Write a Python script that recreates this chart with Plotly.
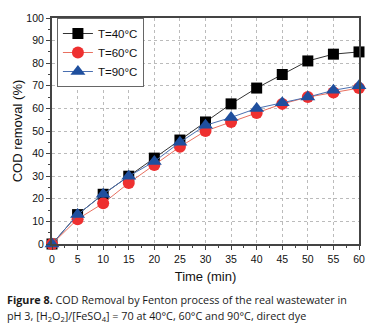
import plotly.graph_objects as go

time_min = [0, 5, 10, 15, 20, 25, 30, 35, 40, 45, 50, 55, 60]
cod_40 = [0, 13, 22, 30, 38, 46, 54, 62, 69, 75, 81, 84, 85]
cod_60 = [0, 11, 18, 27, 35, 43, 50, 54, 58, 62, 65, 67, 69]
cod_90 = [0, 13, 22, 30, 36.5, 45, 52.5, 56, 60, 62.5, 65, 68, 70]

series = [
    ("T=40°C", cod_40, "square", "#000000", "#333333", 11),
    ("T=60°C", cod_60, "circle", "#ee3030", "#e87060", 12),
    ("T=90°C", cod_90, "triangle-up", "#1f4f9e", "#4a6fb0", 13),
]

fig = go.Figure()
for name, ys, sym, mc, lc, ms in series:
    fig.add_trace(go.Scatter(
        x=time_min, y=ys, name=name, mode="lines+markers",
        line=dict(color=lc, width=1),
        marker=dict(symbol=sym, color=mc, size=ms, line=dict(width=0)),
        cliponaxis=False,
    ))

axis_font = dict(family="Liberation Sans, Arial", size=10.5, color="#111")
title_font = dict(family="Liberation Sans, Arial", size=13, color="#111")
fig.update_layout(
    width=377, height=333,
    margin=dict(l=52, r=15, t=14, b=89),
    paper_bgcolor="white", plot_bgcolor="white",
    showlegend=True,
    legend=dict(
        x=0.016, y=1.0, xanchor="left", yanchor="top",
        bgcolor="white", bordercolor="#666", borderwidth=1,
        font=dict(family="Liberation Sans, Arial", size=11.5, color="#111"),
        tracegroupgap=0, itemwidth=30,
    ),
    xaxis=dict(
        range=[0, 60], tickmode="linear", tick0=0, dtick=5,
        showgrid=True, gridcolor="#bbbbbb", griddash="dot", gridwidth=1,
        showline=True, linecolor="#444", linewidth=2, mirror=True,
        ticks="outside", ticklen=4, tickcolor="#444", tickwidth=1,
        minor=dict(ticks="outside", ticklen=2, dtick=2.5, tickcolor="#444", showgrid=False),
        tickfont=axis_font, zeroline=False,
        title=dict(text="Time (min)", font=title_font, standoff=8),
    ),
    yaxis=dict(
        range=[0, 100], tickmode="linear", tick0=0, dtick=10,
        showgrid=True, gridcolor="#bbbbbb", griddash="dot", gridwidth=1,
        showline=True, linecolor="#444", linewidth=2, mirror=True,
        ticks="outside", ticklen=4, tickcolor="#444", tickwidth=1,
        minor=dict(ticks="outside", ticklen=2, dtick=5, tickcolor="#444", showgrid=False),
        tickfont=axis_font, zeroline=False,
        title=dict(text="COD removal (%)", font=title_font, standoff=1),
    ),
)

cap_font = dict(family="Open Sans", size=10.8, color="#1a1a1a")
cap_x = (5 - 52) / 310
fig.add_annotation(
    xref="paper", yref="paper", x=cap_x, y=(244 - 300) / 230, xanchor="left", yanchor="middle",
    text="<b>Figure 8.</b> COD Removal by Fenton process of the real wastewater in",
    showarrow=False, align="left", font=cap_font,
)
fig.add_annotation(
    xref="paper", yref="paper", x=cap_x, y=(244 - 317) / 230, xanchor="left", yanchor="middle",
    text="pH 3, [H<sub>2</sub>O<sub>2</sub>]/[FeSO<sub>4</sub>] = 70 at 40°C, 60°C and 90°C, direct dye",
    showarrow=False, align="left", font=cap_font,
)

fig.write_html("out.html", config={"displayModeBar": False},
               post_script="document.body.style.margin='0';")
